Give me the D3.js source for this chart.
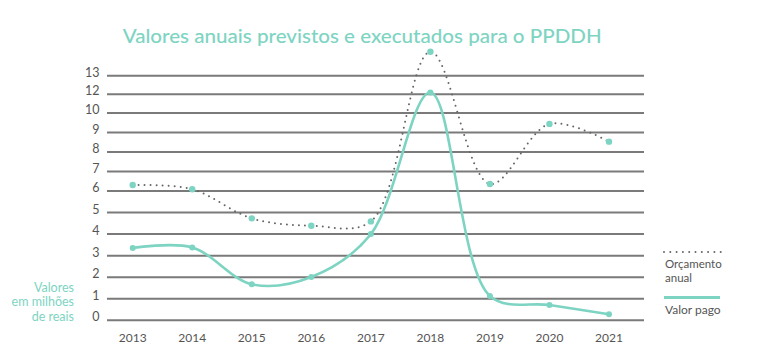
<!DOCTYPE html>
<html>
<head>
<meta charset="utf-8">
<script src="https://cdn.jsdelivr.net/npm/d3@7"></script>
<style>
  html, body { margin: 0; padding: 0; background: #fff; }
  svg { display: block; font-family: Lato, "Open Sans", sans-serif; }
</style>
</head>
<body>
<script>
// ---- data ----
const years = ["2013","2014","2015","2016","2017","2018","2019","2020","2021"];
const orcamento = [6.31, 6.09, 4.73, 4.39, 4.59, 14.29, 6.36, 9.44, 8.53];
const valorPago = [3.36, 3.38, 1.67, 2.01, 4.0, 12.1, 1.13, 0.71, 0.28];
const yTicks = [0, 1, 2, 3, 4, 5, 6, 7, 8, 9, 10, 12, 13];
const title = "Valores anuais previstos e executados para o PPDDH";
const yTitle = ["Valores", "em milhões", "de reais"];
const legendLabels = [["Orçamento", "anual"], ["Valor pago"]];

// ---- layout ----
const W = 768, H = 355;
const teal = "#7dd4c2";
const gridColor = "#7a7a7a";
const textColor = "#555";
const gridX0 = 107, gridX1 = 644;

const svg = d3.select("body").append("svg").attr("width", W).attr("height", H);

const x = d3.scalePoint().domain(years).range([132.7, 609]);
// uneven gridline spacing of the original, as a piecewise scale
const y = d3.scaleLinear()
  .domain([0, 6, 10, 12, 13])
  .range([320.3, 191, 113, 94.3, 75.7]);

// title
svg.append("text")
  .attr("x", 122.7).attr("y", 42.7)
  .attr("textLength", 479).attr("lengthAdjust", "spacingAndGlyphs")
  .attr("fill", teal).attr("font-size", 20).attr("font-weight", 500)
  .text(title);

// gridlines
svg.append("g").selectAll("line").data(yTicks).join("line")
  .attr("x1", gridX0).attr("x2", gridX1)
  .attr("y1", d => y(d)).attr("y2", d => y(d))
  .attr("stroke", gridColor).attr("stroke-width", 2);

// y tick labels
svg.append("g").selectAll("text").data(yTicks).join("text")
  .attr("x", 99.5).attr("y", d => y(d) + 1)
  .attr("text-anchor", "end").attr("font-size", 12.5).attr("fill", textColor)
  .text(d => d);

// x labels
svg.append("g").selectAll("text").data(years).join("text")
  .attr("x", d => x(d)).attr("y", 342)
  .attr("text-anchor", "middle").attr("font-size", 12).attr("fill", textColor)
  .text(d => d);

// y title
svg.append("g").selectAll("text").data(yTitle).join("text")
  .attr("x", 74).attr("y", (d, i) => 291.5 + i * 14.7)
  .attr("text-anchor", "end").attr("font-size", 12.5).attr("fill", teal)
  .text(d => d);

const line = d3.line()
  .x((d, i) => x(years[i]))
  .y(d => y(d))
  .curve(d3.curveCatmullRom.alpha(0.5));

// dotted budget line
svg.append("path").datum(orcamento)
  .attr("d", line).attr("fill", "none")
  .attr("stroke", "#666").attr("stroke-width", 2)
  .attr("stroke-linecap", "round").attr("stroke-dasharray", "0,6");

// paid line
svg.append("path").datum(valorPago)
  .attr("d", line).attr("fill", "none")
  .attr("stroke", teal).attr("stroke-width", 2.6);

// points
svg.append("g").selectAll("circle").data(orcamento).join("circle")
  .attr("cx", (d, i) => x(years[i])).attr("cy", d => y(d))
  .attr("r", 3.2).attr("fill", teal);
svg.append("g").selectAll("circle").data(valorPago).join("circle")
  .attr("cx", (d, i) => x(years[i])).attr("cy", d => y(d))
  .attr("r", 3).attr("fill", teal);

// legend
const lg = svg.append("g");
lg.append("line").attr("x1", 664).attr("x2", 721).attr("y1", 252).attr("y2", 252)
  .attr("stroke", "#666").attr("stroke-width", 2)
  .attr("stroke-linecap", "round").attr("stroke-dasharray", "0,6.3");
lg.selectAll("text.l0").data(legendLabels[0]).join("text")
  .attr("x", 665).attr("y", (d, i) => 267.5 + i * 14)
  .attr("font-size", 11.5).attr("fill", textColor).text(d => d);
lg.append("line").attr("x1", 664).attr("x2", 720).attr("y1", 297.5).attr("y2", 297.5)
  .attr("stroke", teal).attr("stroke-width", 3);
lg.selectAll("text.l1").data(legendLabels[1]).join("text")
  .attr("x", 665).attr("y", 313.5)
  .attr("font-size", 12).attr("fill", textColor).text(d => d);
</script>
</body>
</html>
